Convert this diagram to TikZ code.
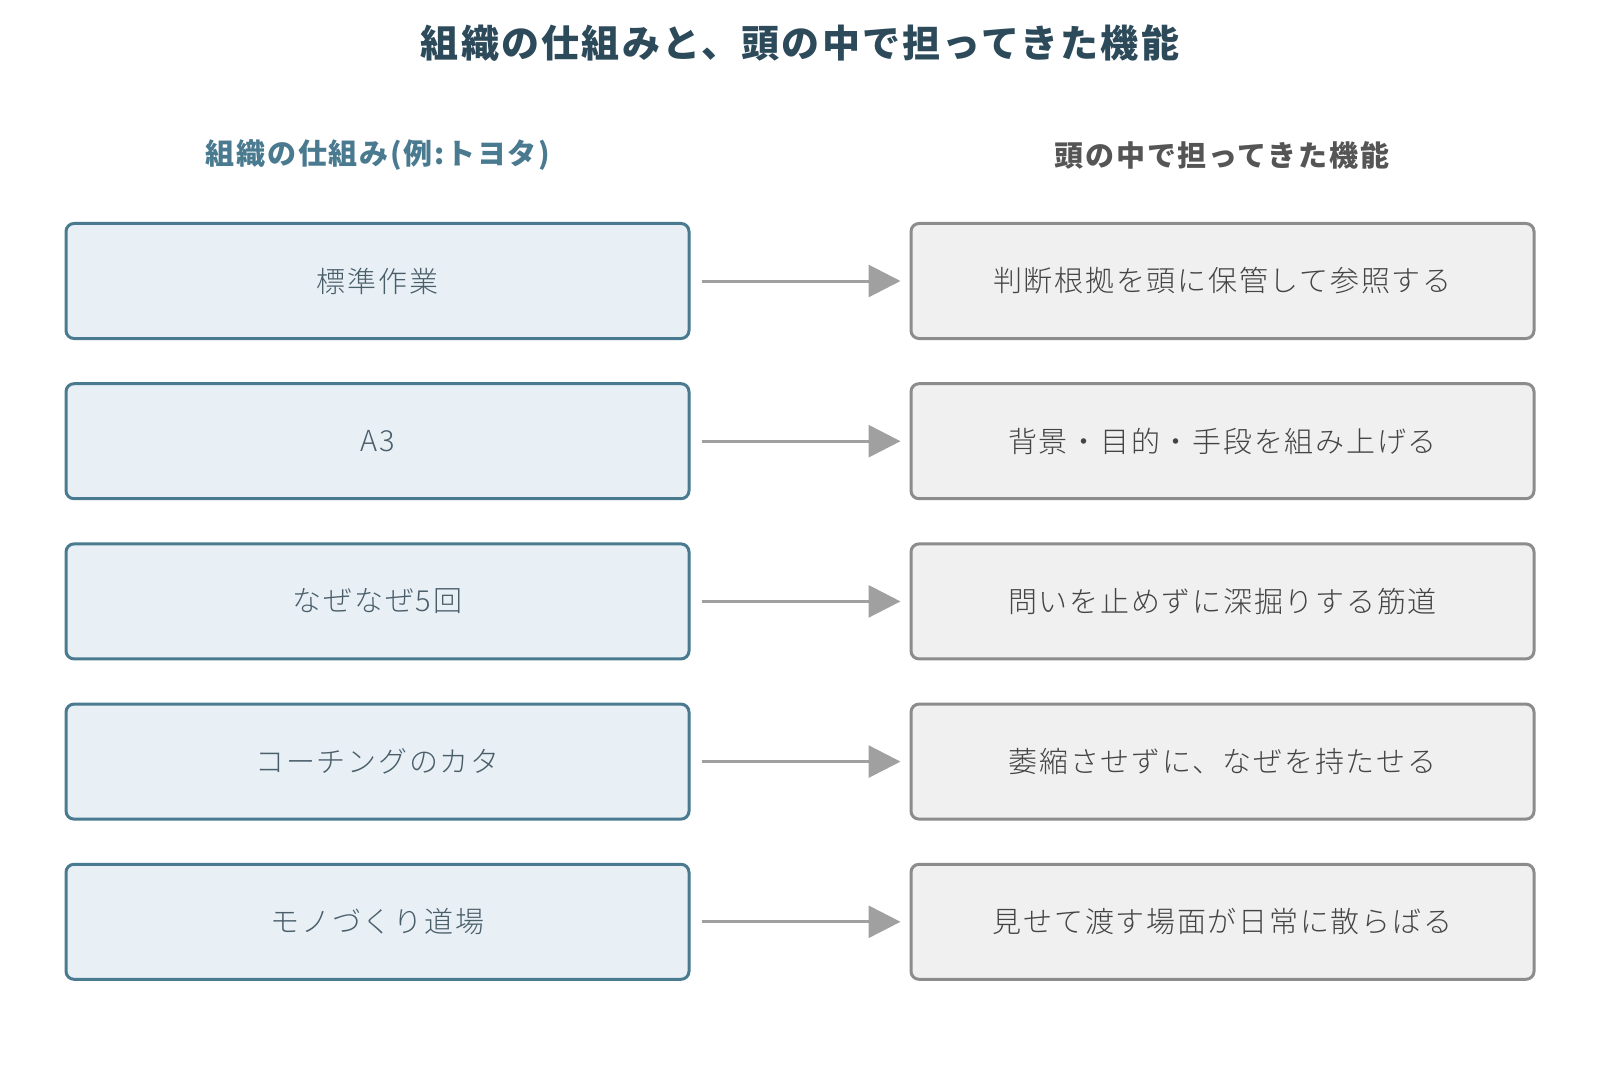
\documentclass[tikz,border=0pt]{standalone}
\usepackage{fontspec}
\setmainfont{Noto Sans CJK JP}[LetterSpace=6]
\newfontfamily\bodyfont{Noto Sans CJK JP Light}[LetterSpace=6]
\usetikzlibrary{arrows.meta}
\definecolor{titlec}{HTML}{2C4A5A}
\definecolor{lhead}{HTML}{4A7A8F}
\definecolor{rhead}{HTML}{555555}
\definecolor{lfill}{HTML}{E8F0F6}
\definecolor{ldraw}{HTML}{4A7A8F}
\definecolor{ltext}{HTML}{4A5E6A}
\definecolor{rfill}{HTML}{F0F0F0}
\definecolor{rdraw}{HTML}{8C8C8C}
\definecolor{rtext}{HTML}{444444}
\definecolor{arr}{HTML}{A0A0A0}
\tikzset{
  lbox/.style={draw=ldraw, fill=lfill, line width=3pt, rounded corners=8pt,
    minimum width=623pt, minimum height=115pt, inner sep=0pt,
    text=ltext, font=\bodyfont\fontsize{29}{34}\selectfont},
  rbox/.style={draw=rdraw, fill=rfill, line width=3pt, rounded corners=8pt,
    minimum width=623pt, minimum height=115pt, inner sep=0pt,
    text=rtext, font=\bodyfont\fontsize{29}{34}\selectfont},
  conn/.style={draw=arr, line width=3pt, -{Triangle[length=32pt,width=32pt]}, shorten >=9pt, shorten <=11pt},
  ttl/.style={text=titlec, font=\bfseries\fontsize{38}{44}\selectfont},
  lh/.style={text=lhead, font=\bfseries\fontsize{29}{34}\selectfont},
  rh/.style={text=rhead, font=\bfseries\fontsize{29}{34}\selectfont},
}
\begin{document}
\begin{tikzpicture}[x=1pt,y=-1pt]
\useasboundingbox[fill=white] (0,0) rectangle (1600,1067);
\node[ttl] (title) at (800,43) {組織の仕組みと、頭の中で担ってきた機能};
\node[lh] (lhd) at (378,155) {組織の仕組み(例:トヨタ)};
\node[rh] (rhd) at (1222,155) {頭の中で担ってきた機能};
\node[lbox] (l1) at (377.5,281) {標準作業};
\node[lbox] (l2) at (377.5,441.2) {A3};
\node[lbox] (l3) at (377.5,601.4) {なぜなぜ5回};
\node[lbox] (l4) at (377.5,761.6) {コーチングのカタ};
\node[lbox] (l5) at (377.5,921.8) {モノづくり道場};
\node[rbox] (r1) at (1222.5,281) {判断根拠を頭に保管して参照する};
\node[rbox] (r2) at (1222.5,441.2) {背景・目的・手段を組み上げる};
\node[rbox] (r3) at (1222.5,601.4) {問いを止めずに深掘りする筋道};
\node[rbox] (r4) at (1222.5,761.6) {萎縮させずに、なぜを持たせる};
\node[rbox] (r5) at (1222.5,921.8) {見せて渡す場面が日常に散らばる};
\foreach \i in {1,...,5} {\draw[conn] (l\i) -- (r\i);}
\end{tikzpicture}
\end{document}
